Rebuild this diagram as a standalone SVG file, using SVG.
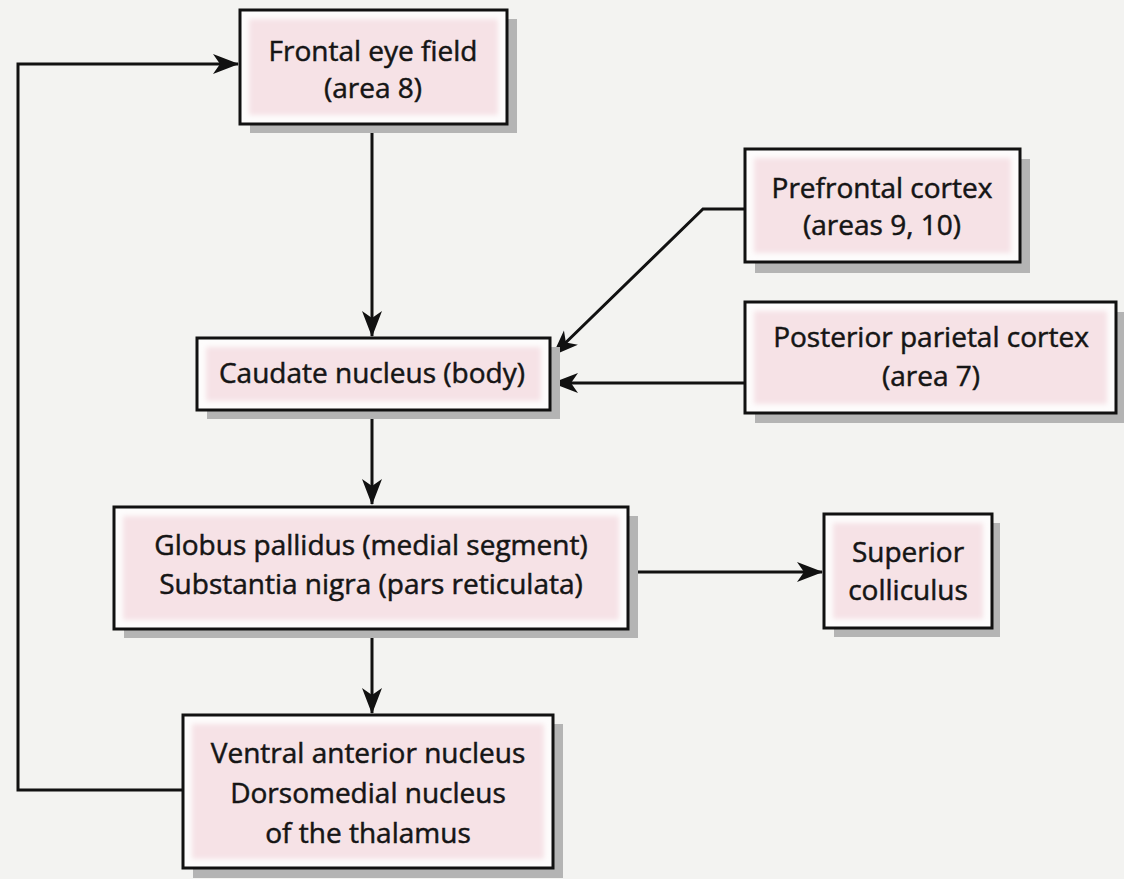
<svg xmlns="http://www.w3.org/2000/svg" width="1124" height="879" viewBox="0 0 1124 879">
  <defs>
    <style>
      .bg { fill: #f3f3f1; }
      .shadow { fill: #b4b4b4; }
      .frame { fill: #fdfcfc; stroke: #111; stroke-width: 3; }
      .tint { fill: #f6e2e6; filter: url(#soft); }
      .label { font-family: "Open Sans", "Noto Sans", sans-serif; font-size: 28px; fill: #151515; stroke: #151515; stroke-width: 0.5; text-anchor: middle; }
      .wire { fill: none; stroke: #111; stroke-width: 3; }
    </style>
    <filter id="soft" x="-5%" y="-10%" width="110%" height="120%">
      <feGaussianBlur stdDeviation="2.5"/>
    </filter>
    <marker id="arrow" markerUnits="userSpaceOnUse" markerWidth="28" markerHeight="22" refX="25" refY="10" orient="auto">
      <path d="M0,0 L26,10 L0,20 L7,10 Z" fill="#111"/>
    </marker>
  </defs>

  <rect class="bg" x="0" y="0" width="1124" height="879"/>

  <!-- connectors -->
  <g id="connectors">
    <path class="wire" d="M183,790 H18 V64 H238" marker-end="url(#arrow)"/>
    <path class="wire" d="M372,124 V336" marker-end="url(#arrow)"/>
    <path class="wire" d="M372,410 V504" marker-end="url(#arrow)"/>
    <path class="wire" d="M372,629 V713" marker-end="url(#arrow)"/>
    <path class="wire" d="M628,572 H822" marker-end="url(#arrow)"/>
    <path class="wire" d="M745,209 H703 L553,355" marker-end="url(#arrow)"/>
    <path class="wire" d="M745,383 H553" marker-end="url(#arrow)"/>
  </g>

  <!-- Frontal eye field -->
  <g id="frontal-eye-field">
    <rect class="shadow" x="250" y="19" width="267" height="114"/>
    <rect class="frame" x="240" y="10" width="267" height="114"/>
    <rect class="tint" x="249" y="19" width="249" height="96"/>
    <text class="label" x="373" y="61">Frontal eye field</text>
    <text class="label" x="373" y="98">(area 8)</text>
  </g>

  <!-- Prefrontal cortex -->
  <g id="prefrontal-cortex">
    <rect class="shadow" x="755" y="159" width="275" height="114"/>
    <rect class="frame" x="745" y="149" width="275" height="113"/>
    <rect class="tint" x="754" y="158" width="257" height="95"/>
    <text class="label" x="882" y="198">Prefrontal cortex</text>
    <text class="label" x="882" y="235">(areas 9, 10)</text>
  </g>

  <!-- Posterior parietal cortex -->
  <g id="posterior-parietal-cortex">
    <rect class="shadow" x="755" y="312" width="369" height="111"/>
    <rect class="frame" x="745" y="302" width="371" height="111"/>
    <rect class="tint" x="754" y="311" width="353" height="93"/>
    <text class="label" x="931" y="347">Posterior parietal cortex</text>
    <text class="label" x="931" y="386">(area 7)</text>
  </g>

  <!-- Caudate nucleus -->
  <g id="caudate-nucleus">
    <rect class="shadow" x="207" y="347" width="353" height="72"/>
    <rect class="frame" x="197" y="338" width="353" height="72"/>
    <rect class="tint" x="206" y="347" width="335" height="54"/>
    <text class="label" x="372" y="383">Caudate nucleus (body)</text>
  </g>

  <!-- Globus pallidus / Substantia nigra -->
  <g id="globus-pallidus">
    <rect class="shadow" x="124" y="516" width="514" height="122"/>
    <rect class="frame" x="114" y="507" width="514" height="122"/>
    <rect class="tint" x="123" y="516" width="496" height="104"/>
    <text class="label" x="371" y="555">Globus pallidus (medial segment)</text>
    <text class="label" x="371" y="594">Substantia nigra (pars reticulata)</text>
  </g>

  <!-- Superior colliculus -->
  <g id="superior-colliculus">
    <rect class="shadow" x="834" y="523" width="166" height="114"/>
    <rect class="frame" x="824" y="514" width="168" height="114"/>
    <rect class="tint" x="833" y="523" width="150" height="96"/>
    <text class="label" x="908" y="562">Superior</text>
    <text class="label" x="908" y="600">colliculus</text>
  </g>

  <!-- Ventral anterior / Dorsomedial nucleus -->
  <g id="thalamic-nuclei">
    <rect class="shadow" x="193" y="724" width="370" height="154"/>
    <rect class="frame" x="183" y="715" width="370" height="153"/>
    <rect class="tint" x="192" y="724" width="352" height="135"/>
    <text class="label" x="368" y="763">Ventral anterior nucleus</text>
    <text class="label" x="368" y="803">Dorsomedial nucleus</text>
    <text class="label" x="368" y="843">of the thalamus</text>
  </g>
</svg>
